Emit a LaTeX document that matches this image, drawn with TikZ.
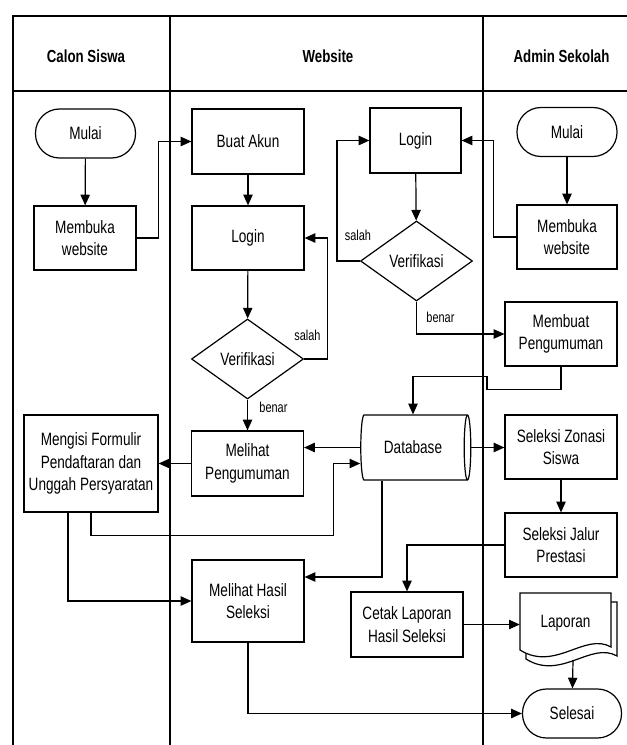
\documentclass[tikz,border=0pt]{standalone}
\usepackage{fontspec}
\setmainfont{Liberation Sans}[FakeStretch=0.76]
\usepackage{tikz}
\usetikzlibrary{shapes.geometric,arrows.meta,positioning,calc}

\begin{document}
\begin{tikzpicture}[
  x=0.75pt,y=-0.75pt,
  font=\fontsize{13.4}{17}\selectfont,
  box/.style={rectangle,draw,line width=0.9pt,fill=white,minimum width=84pt,minimum height=48.75pt,align=center,inner sep=2pt},
  term/.style={box,rounded corners=18pt,minimum width=75pt,minimum height=36.75pt},
  dec/.style={diamond,draw,line width=0.9pt,fill=white,minimum width=84pt,minimum height=60pt,inner sep=0pt},
  store/.style={cylinder,draw,line width=0.9pt,fill=white,minimum width=48.75pt,minimum height=82.5pt,aspect=0.3,shape border rotate=0},
  lbl/.style={font=\fontsize{10.8}{12}\selectfont,inner sep=1pt},
  head/.style={font=\fontsize{13.1}{15}\selectfont\bfseries},
  lane/.style={line width=0.8pt},
  arr/.style={-{Triangle[length=8pt,width=7pt]},line width=0.9pt}
]
\useasboundingbox (0,0) rectangle (627,745);

% swimlanes
\draw[lane] (13,745) |- (627,16);
\draw[lane] (13,91) -- (627,91);
\draw[lane] (170,16) -- (170,745);
\draw[lane] (483,16) -- (483,745);
\node[head] (hsiswa) at (86,56) {Calon Siswa};
\node[head] (hweb) at (328,56) {Website};
\node[head] (hadmin) at (561.5,56) {Admin Sekolah};

% calon siswa
\node[term] (mulai1) at (85.5,133.5) {Mulai};
\node[box,minimum width=76.5pt,minimum height=48pt] (buka1) at (85,238) {Membuka\\website};
\node[box,minimum width=100.5pt,minimum height=72.75pt] (isi) at (91,463.5) {Mengisi Formulir\\Pendaftaran dan\\Unggah Persyaratan};

% website
\node[box] (akun) at (248,141.5) {Buat Akun};
\node[box,minimum height=48pt] (login1) at (248,238) {Login};
\node[dec] (verif1) at (247.5,359) {Verifikasi};
\node[box] (lihat) at (247.5,463.5) {Melihat\\Pengumuman};
\node[box,minimum height=61.5pt] (hasil) at (248,601) {Melihat Hasil\\Seleksi};
\node[box,minimum width=68.25pt] (login2) at (415.5,140.5) {Login};
\node[dec] (verif2) at (416.5,261) {Verifikasi};
\node[store] (db) at (413,447.5) {Database};
\node[box] (cetak) at (407,624.5) {Cetak Laporan\\Hasil Seleksi};

% admin sekolah
\node[term] (mulai2) at (567,132) {Mulai};
\node[box,minimum width=75pt,minimum height=48pt] (buka2) at (567,237) {Membuka\\website};
\node[box,minimum height=48pt] (buat) at (561,334) {Membuat\\Pengumuman};
\node[box,minimum height=48pt] (zonasi) at (561,447) {Seleksi Zonasi\\Siswa};
\node[box,minimum height=48pt] (jalur) at (561,545) {Seleksi Jalur\\Prestasi};
\draw[line width=0.9pt,fill=white] (526,602) -- (617,602) -- (617,656)
  .. controls (591,641) and (561,681) .. (526,659) -- cycle;
\draw[line width=0.9pt,fill=white] (520,593) -- (611,593) -- (611,647)
  .. controls (585,632) and (555,672) .. (520,650) -- cycle;
\node[minimum width=68.25pt,inner sep=0pt] (lap) at (565.5,623) {Laporan};
\coordinate (lapb) at (573,660);
\node[term,minimum width=74.25pt] (selesai) at (572,713.5) {Selesai};

% alur
\draw[arr] (mulai1) -- (buka1);
\draw[arr] (buka1.east) -- ++(22,0) |- (akun);
\draw[arr] (akun) -- (login1);
\draw[arr] (login1) -- (verif1);
\draw[arr] (verif1.east) node[lbl,anchor=south,xshift=2.5pt,yshift=12.5pt] {salah} -- ++(23,0) |- (login1);
\draw[arr] (verif1) -- node[lbl,pos=0.25,anchor=west,xshift=7.5pt] {benar} (lihat);
\draw[arr] (lihat) -- (isi);
\draw[arr] (db.west) -- (db.west -| lihat.east);
\draw[arr] (isi.south) -- ++(0,23) -| ($(db.west)+(-27,16)$) -- ($(db.west)+(0,16)$);
\draw[arr] ($(isi.south)+(-23,0)$) |- (hasil);
\draw[arr] ($(db.south)+(-31,0)$) |- ($(hasil.east)+(0,-24)$);
\draw[arr] (db.east) -- (db.east -| zonasi.west);
\draw[arr] (mulai2) -- (buka2);
\draw[arr] (buka2.west) -- ++(-23,0) |- (login2);
\draw[arr] (login2) -- (verif2);
\draw[arr] (verif2.west) -- ++(-23,0) node[lbl,anchor=south west,xshift=4.5pt,yshift=13.5pt] {salah} |- (login2);
\draw[arr] (verif2.south) |- node[lbl,pos=0.25,anchor=west,xshift=6pt] {benar} (buat);
\draw[arr] (buat.south) -- ++(0,23) -- ++(-74,0) -- ++(0,-13) -| (db.north);
\draw[arr] (zonasi) -- (jalur);
\draw[arr] (jalur.west) -| (cetak.north);
\draw[arr] (cetak) -- (cetak -| lap.west);
\draw[arr] (lapb) -- (selesai);
\draw[arr] (hasil.south) |- (selesai);
\end{tikzpicture}
\end{document}
